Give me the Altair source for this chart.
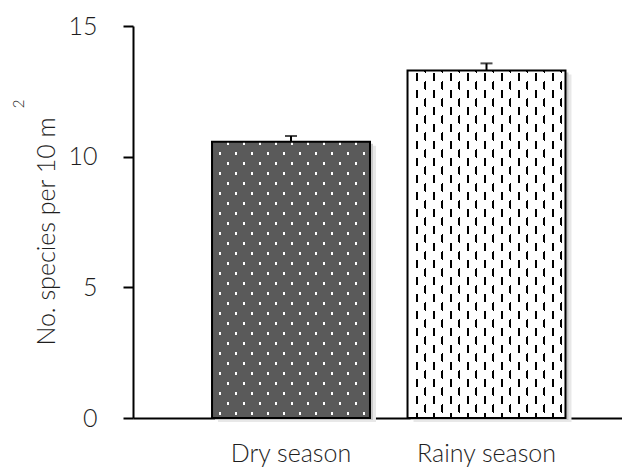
import altair as alt
import pandas as pd

# ---- data ----
seasons = ["Dry season", "Rainy season"]
means = [10.57, 13.30]
ses = [0.22, 0.27]
y_ticks = [0, 5, 10, 15]
y_title = "No. species per 10 m"
sup_text = "2"

df = pd.DataFrame({
    "season": seasons,
    "mean": means,
    "upper": [m + s for m, s in zip(means, ses)],
})

PW, PH, YMAX = 489, 392, 15
P_INNER, P_OUTER, ALIGN = 0.192, 0.3467, 0.583
step = PW / (len(seasons) - P_INNER + 2 * P_OUTER)
BW = step * (1 - P_INNER)          # bar width in px (for pattern stops)
FONT = "Lato"
FW = 300
FS = 25
TXT = "#1e1e1e"
CLEAR = "rgba(0,0,0,0)"


def stops_from(windows, total, color):
    st = [{"offset": 0, "color": color}]
    for a, b in windows:
        a = max(a, 0.0)
        b = min(b, total)
        if b <= 0 or a >= total or b <= a:
            continue
        fa, fb = a / total, b / total
        st += [{"offset": fa, "color": color}, {"offset": fa, "color": CLEAR},
               {"offset": fb, "color": CLEAR}, {"offset": fb, "color": color}]
    st.append({"offset": 1, "color": color})
    return st


def col_mask(W, period, start, width, color):
    wins = []
    a = start
    while a < W:
        wins.append((a, a + width))
        a += period
    return {"gradient": "linear", "x1": 0, "y1": 0, "x2": 1, "y2": 0,
            "stops": stops_from(wins, W, color)}


def diag_mask(W, H, s, period, phase, width, color):
    """mask transparent where (y - s*x - phase) mod period < width (pixels in bar box)"""
    total = H + abs(s) * W
    c = total / (s * s * W * W + H * H)
    if s > 0:
        p0x, u0 = 1.0, -s * W
    else:
        p0x, u0 = 0.0, 0.0
    wins = []
    n = int((u0 - phase) // period) - 1
    while True:
        a = phase + n * period - u0
        if a > total:
            break
        wins.append((a, a + width))
        n += 1
    return {"gradient": "linear", "x1": p0x, "y1": 0,
            "x2": p0x - s * c * W, "y2": c * H,
            "stops": stops_from(wins, total, color)}


H_dry = means[0] * PH / YMAX
H_rain = means[1] * PH / YMAX

xscale = alt.Scale(domain=seasons, paddingInner=P_INNER, paddingOuter=P_OUTER, align=ALIGN)
yscale = alt.Scale(domain=[0, YMAX])

x_axis = alt.Axis(ticks=False, labelAngle=0, domainColor="black", domainWidth=2,
                  labelFont=FONT, labelFontSize=FS, labelFontWeight=FW, labelColor=TXT,
                  labelPadding=23, title=None)
y_axis = alt.Axis(values=y_ticks, grid=False, tickSize=10, tickWidth=2, tickColor="black",
                  domainColor="black", domainWidth=2, labelFont=FONT, labelFontSize=FS,
                  labelFontWeight=FW, labelColor=TXT, labelPadding=26, title=y_title,
                  titleFont=FONT, titleFontSize=FS, titleFontWeight=FW, titleColor=TXT,
                  titlePadding=8, titleY=205)

X = alt.X("season:N", scale=xscale, sort=seasons, axis=x_axis)
Y = alt.Y("mean:Q", scale=yscale, axis=y_axis)

base = alt.Chart(df)
dry = base.transform_filter(alt.datum.season == seasons[0])
rain = base.transform_filter(alt.datum.season == seasons[1])

shadow2 = base.mark_bar(xOffset=6, yOffset=4, color="#e8e8e8").encode(x=X, y=Y)
shadow1 = base.mark_bar(xOffset=3, yOffset=2, color="#c8c8c8").encode(x=X, y=Y)

DRYC = "#5a5a5a"
dry_base = dry.mark_bar(fill="white").encode(x=X, y=Y)
dry_m1 = dry.mark_bar(fill=diag_mask(BW, H_dry, 1.25, 20, 0, 3.6, DRYC)).encode(x=X, y=Y)
dry_m2 = dry.mark_bar(fill=diag_mask(BW, H_dry, -1.25, 20, 0, 3.6, DRYC)).encode(x=X, y=Y)

COL0, COLW, COLP = 8, 2.2, 8.5
xc0 = COL0 + COLW / 2
rain_base = rain.mark_bar(fill="black").encode(x=X, y=Y)
rain_m1 = rain.mark_bar(fill=col_mask(BW, COLP, COL0, COLW, "white")).encode(x=X, y=Y)
rain_m2 = rain.mark_bar(fill=diag_mask(BW, H_rain, 1.0, 17, 2 - xc0, 9, "white")).encode(x=X, y=Y)
rain_m3 = rain.mark_bar(fill=diag_mask(BW, H_rain, -1.0, 17, 2 + xc0, 9, "white")).encode(x=X, y=Y)

outline = base.mark_bar(fill="transparent", stroke="black", strokeWidth=2).encode(x=X, y=Y)

err = base.mark_rule(color="black", strokeWidth=2).encode(x=X, y=Y, y2="upper:Q")
cap = base.mark_tick(color="black", size=12, thickness=2).encode(
    x=X, y=alt.Y("upper:Q", scale=yscale, axis=y_axis))

sup = alt.Chart(pd.DataFrame({"t": [sup_text]})).mark_text(
    angle=270, fontSize=15, font=FONT, fontWeight=FW, color=TXT).encode(
    text="t:N", x=alt.value(-114), y=alt.value(78))

chart = alt.layer(shadow2, shadow1, dry_base, dry_m1, dry_m2, rain_base, rain_m1, rain_m2,
                  rain_m3, outline, err, cap, sup).properties(
    width=PW, height=PH,
    padding={"left": 125, "top": 18, "right": 0, "bottom": 50},
    autosize=alt.AutoSizeParams(type="none"),
).configure_view(stroke=None)

chart.save("out.html", embed_options={"renderer": "svg", "actions": False})
